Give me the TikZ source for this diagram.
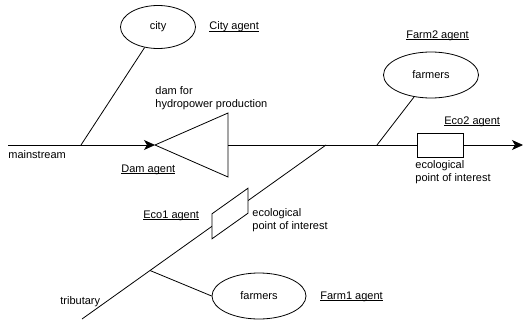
\documentclass[tikz,border=0pt]{standalone}
\usepackage{fontspec}
\setmainfont{Liberation Sans}
\usetikzlibrary{shapes.geometric, arrows.meta}

\newcommand{\agentline}[1]{\setbox0\hbox{#1}\rlap{\rule[-1.8pt]{\wd0}{0.6pt}}\box0}

\tikzset{
  place/.style = {draw, ellipse, inner sep=0pt},
  poi/.style = {draw, rectangle, fill=white, minimum width=46pt, minimum height=24pt, inner sep=0pt},
  tag/.style = {anchor=base west, inner sep=0pt},
  note/.style = {anchor=north west, align=left, inner sep=0pt},
  flow/.style = {-{Stealth[length=11pt, width=10pt, inset=3pt]}}
}

\begin{document}
\begin{tikzpicture}[x=1pt, y=-1pt, line width=0.8pt, font=\fontsize{11}{13.5}\selectfont]
\useasboundingbox (0,0) rectangle (523,324);

\node[place, minimum width=75pt, minimum height=43pt] (city) at (158,27) {city};
\node[place, minimum width=95pt, minimum height=46pt] (farm2) at (431,75) {farmers};
\node[place, minimum width=94pt, minimum height=46pt] (farm1) at (259,296) {farmers};
\node[poi] (eco2) at (440,145) {};

\coordinate (src) at (8,145);
\coordinate (sea) at (523,145);
\coordinate (damtip) at (155,145);
\coordinate (damtop) at (228,113);
\coordinate (dambot) at (228,177);
\coordinate (dambase) at (228,145);
\coordinate (cityjoin) at (81,145);
\coordinate (farm2join) at (377,145);
\coordinate (tribjoin) at (326,145);
\coordinate (tribsrc) at (82,319);
\coordinate (farm1join) at (150,270.5);
\coordinate (eco1) at (230,213.5);

% mainstream
\draw[flow] (src) -- (damtip);
\draw (damtip) -- (damtop) -- (dambot) -- cycle;
\draw (dambase) -- (eco2);
\draw[flow] (eco2) -- (sea);

% tributary
\draw (tribsrc) -- (tribjoin);
\draw[fill=white] ([shift={(-18,25.3)}]eco1) -- ([shift={(-18,0.3)}]eco1)
  -- ([shift={(18,-25.3)}]eco1) -- ([shift={(18,-0.3)}]eco1) -- cycle;

\draw (cityjoin) -- (city);
\draw (farm2join) -- (farm2);
\draw (farm1join) -- (farm1.west);

\node[tag] (citytag) at (209,30) {\agentline{City agent}};
\node[tag] (damtag) at (121,172) {\agentline{Dam agent}};
\node[tag] (farm2tag) at (406,38) {\agentline{Farm2 agent}};
\node[tag] (eco2tag) at (444,124) {\agentline{Eco2 agent}};
\node[tag] (eco1tag) at (143,218) {\agentline{Eco1 agent}};
\node[tag] (farm1tag) at (320,299) {\agentline{Farm1 agent}};
\node[tag] (mainname) at (8,158) {mainstream};
\node[tag] (tribname) at (60,304) {tributary};

\node[note] (damtext) at (155,86) {dam for\\hydropower production};
\node[note] (eco2text) at (415,160) {ecological\\point of interest};
\node[note] (eco1text) at (252,208) {ecological\\point of interest};

\end{tikzpicture}
\end{document}
